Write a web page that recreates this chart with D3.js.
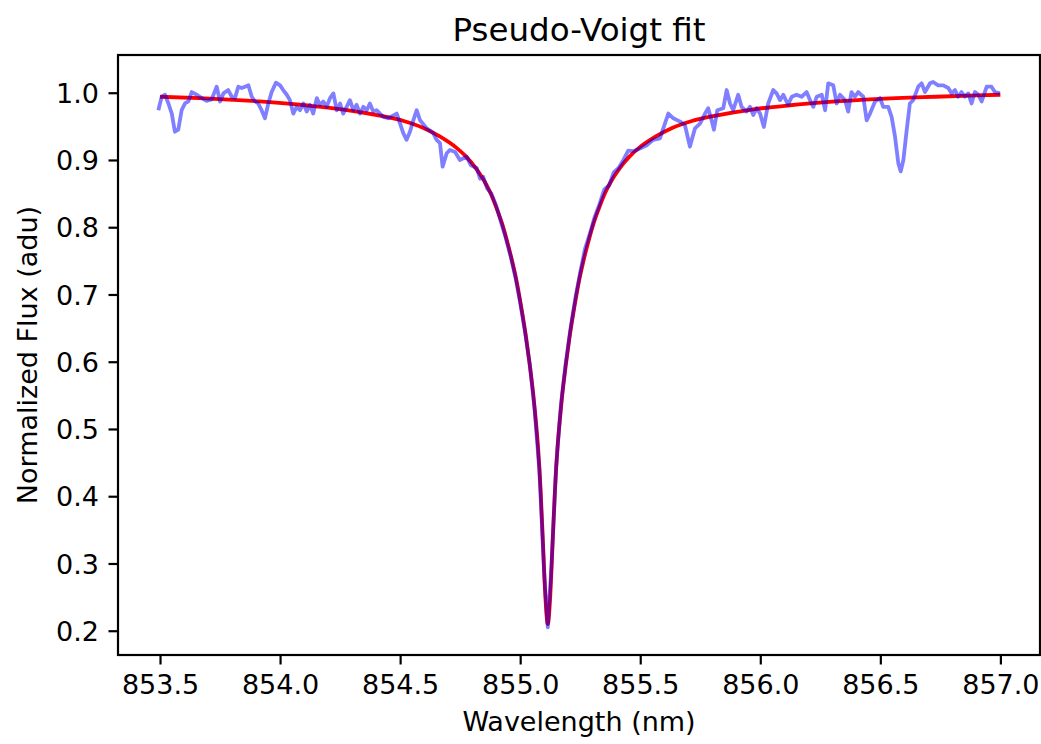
<!DOCTYPE html>
<html>
<head>
<meta charset="utf-8">
<script src="https://cdn.jsdelivr.net/npm/d3@7"></script>
<style>
  body { margin: 0; background: #ffffff; }
  svg { display: block; font-family: "DejaVu Sans", sans-serif; }
</style>
</head>
<body>
<script>
// observed spectrum (blue)
const wavelength_data = [
  853.493, 853.507, 853.521, 853.535, 853.549, 853.562, 853.576, 853.590, 853.604, 853.618,
  853.632, 853.653, 853.674, 853.694, 853.715, 853.736, 853.750, 853.764, 853.784, 853.799,
  853.812, 853.826, 853.840, 853.854, 853.868, 853.882, 853.896, 853.909, 853.923, 853.937,
  853.951, 853.965, 853.983, 854.000, 854.013, 854.028, 854.041, 854.055, 854.069, 854.083,
  854.097, 854.111, 854.125, 854.138, 854.153, 854.166, 854.180, 854.194, 854.208, 854.222,
  854.236, 854.250, 854.263, 854.277, 854.291, 854.305, 854.319, 854.333, 854.347, 854.361,
  854.374, 854.388, 854.402, 854.416, 854.430, 854.451, 854.486, 854.513, 854.527, 854.541,
  854.555, 854.569, 854.583, 854.611, 854.638, 854.652, 854.666, 854.677, 854.694, 854.708,
  854.729, 854.749, 854.777, 854.795, 854.819, 854.833, 854.846, 854.862, 854.880, 854.900,
  854.920, 854.940, 854.960, 854.980, 855.000, 855.020, 855.040, 855.060, 855.080, 855.100,
  855.115, 855.130, 855.150, 855.170, 855.190, 855.210, 855.230, 855.250, 855.270, 855.290,
  855.310, 855.330, 855.350, 855.370, 855.390, 855.410, 855.430, 855.450, 855.470,
  855.499, 855.527, 855.554, 855.582, 855.617, 855.638, 855.666, 855.686, 855.707, 855.728,
  855.749, 855.770, 855.783, 855.797, 855.807, 855.821, 855.846, 855.860, 855.874, 855.887,
  855.908, 855.922, 855.943, 855.957, 855.971, 855.985, 855.999, 856.015, 856.033, 856.054,
  856.068, 856.082, 856.096, 856.116, 856.131, 856.151, 856.172, 856.193, 856.207, 856.221,
  856.235, 856.256, 856.270, 856.283, 856.304, 856.318, 856.332, 856.353, 856.366, 856.380,
  856.394, 856.408, 856.429, 856.443, 856.457, 856.478, 856.499, 856.512, 856.533, 856.547,
  856.561, 856.575, 856.585, 856.596, 856.610, 856.623, 856.637, 856.658, 856.672, 856.686,
  856.707, 856.720, 856.741, 856.762, 856.783, 856.797, 856.811, 856.824, 856.838, 856.852,
  856.866, 856.880, 856.894, 856.908, 856.922, 856.943, 856.963, 856.977, 856.998
];
const flux_data = [
  0.974, 0.994, 0.997, 0.984, 0.969, 0.942, 0.945, 0.974, 0.984, 0.987,
  1.001, 0.997, 0.992, 0.988, 0.990, 1.009, 0.987, 0.999, 1.004, 0.994,
  0.992, 1.009, 1.007, 1.009, 1.011, 0.994, 0.987, 0.984, 0.974, 0.962,
  0.984, 1.001, 1.015, 1.011, 1.004, 0.997, 0.989, 0.969, 0.979, 0.974,
  0.984, 0.972, 0.982, 0.969, 0.992, 0.982, 0.987, 0.979, 0.992, 0.999,
  0.974, 0.984, 0.969, 0.979, 0.989, 0.974, 0.982, 0.969, 0.979, 0.974,
  0.984, 0.972, 0.974, 0.969, 0.964, 0.962, 0.969, 0.940, 0.930, 0.942,
  0.959, 0.974, 0.959, 0.947, 0.940, 0.930, 0.925, 0.890, 0.910, 0.915,
  0.912, 0.900, 0.905, 0.892, 0.888, 0.872, 0.875, 0.858, 0.850, 0.832,
  0.808, 0.784, 0.757, 0.726, 0.688, 0.645, 0.596, 0.530, 0.438, 0.285,
  0.205, 0.295, 0.445, 0.537, 0.598, 0.650, 0.695, 0.733, 0.768, 0.790,
  0.815, 0.834, 0.856, 0.862, 0.882, 0.888, 0.900, 0.914, 0.913,
  0.917, 0.922, 0.930, 0.932, 0.969, 0.962, 0.957, 0.952, 0.920, 0.947,
  0.954, 0.969, 0.977, 0.959, 0.945, 0.974, 0.977, 1.004, 0.984, 0.974,
  0.997, 0.979, 0.972, 0.979, 0.967, 0.977, 0.969, 0.949, 0.984, 1.004,
  0.999, 0.989, 0.997, 0.982, 0.994, 0.997, 0.994, 1.001, 0.989, 0.979,
  0.994, 0.997, 0.974, 1.014, 1.011, 0.984, 0.997, 0.989, 0.972, 1.001,
  0.994, 1.001, 0.994, 0.959, 0.969, 0.987, 0.992, 0.979, 0.979, 0.964,
  0.935, 0.895, 0.883, 0.900, 0.945, 0.984, 0.989, 1.009, 1.014, 1.001,
  1.014, 1.016, 1.011, 1.011, 1.007, 0.999, 1.004, 0.994, 1.001, 0.994,
  0.999, 0.984, 1.001, 0.997, 0.987, 1.009, 1.009, 1.001, 0.999
];

// pseudo-Voigt fit (red)
const fit_wavelength = [
  853.500, 853.665, 853.915, 854.115, 854.265, 854.415, 854.515, 854.595, 854.665, 854.735,
  854.775, 854.815, 854.845, 854.875, 854.900, 854.925, 854.945, 854.965, 854.985, 855.005,
  855.025, 855.040, 855.055, 855.065, 855.075, 855.085, 855.095, 855.105, 855.115, 855.125,
  855.135, 855.145, 855.155, 855.165, 855.175, 855.190, 855.205, 855.225, 855.245, 855.265,
  855.285, 855.305, 855.330, 855.355, 855.385, 855.415, 855.455, 855.495, 855.565, 855.635,
  855.715, 855.815, 855.965, 856.115, 856.315, 856.565, 856.730, 857.000
];
const fit_flux = [
  0.994, 0.992, 0.987, 0.981, 0.975, 0.966, 0.958, 0.948, 0.935, 0.918,
  0.905, 0.888, 0.872, 0.852, 0.830, 0.805, 0.780, 0.752, 0.720, 0.680,
  0.635, 0.595, 0.550, 0.513, 0.470, 0.410, 0.330, 0.250, 0.210, 0.250,
  0.330, 0.410, 0.470, 0.513, 0.550, 0.595, 0.635, 0.680, 0.720, 0.752,
  0.780, 0.805, 0.830, 0.852, 0.872, 0.888, 0.905, 0.918, 0.935, 0.948,
  0.958, 0.966, 0.975, 0.981, 0.987, 0.992, 0.994, 0.997
];

const x_ticks = [853.5, 854.0, 854.5, 855.0, 855.5, 856.0, 856.5, 857.0];
const y_ticks = [0.2, 0.3, 0.4, 0.5, 0.6, 0.7, 0.8, 0.9, 1.0];

const width = 1041;
const height = 744;
const plot = { left: 118, right: 1040, top: 55, bottom: 655 };

const svg = d3.select("body")
              .append("svg")
              .attr("width", width)
              .attr("height", height);

svg.append("rect")
   .attr("width", width)
   .attr("height", height)
   .attr("fill", "#ffffff");

const xScale = d3.scaleLinear()
                 .domain([853.325, 857.165])
                 .range([plot.left, plot.right]);
const yScale = d3.scaleLinear()
                 .domain([0.1639, 1.0561])
                 .range([plot.bottom, plot.top]);

const fitLine = d3.line()
                  .x(i => xScale(fit_wavelength[i]))
                  .y(i => yScale(fit_flux[i]))
                  .curve(d3.curveMonotoneX);
const dataLine = d3.line()
                   .x(i => xScale(wavelength_data[i]))
                   .y(i => yScale(flux_data[i]));

svg.append("path")
   .attr("d", fitLine(d3.range(fit_wavelength.length)))
   .attr("fill", "none")
   .attr("stroke", "#ff0000")
   .attr("stroke-width", 3.8)
   .attr("stroke-linejoin", "round");

svg.append("path")
   .attr("d", dataLine(d3.range(wavelength_data.length)))
   .attr("fill", "none")
   .attr("stroke", "#0000ff")
   .attr("stroke-opacity", 0.5)
   .attr("stroke-width", 3.8)
   .attr("stroke-linejoin", "round");

// axes
const xAxis = svg.append("g")
                 .attr("transform", "translate(0," + plot.bottom + ")")
                 .call(d3.axisBottom(xScale)
                         .tickValues(x_ticks)
                         .tickFormat(d3.format(".1f"))
                         .tickSize(9.5)
                         .tickPadding(9));
const yAxis = svg.append("g")
                 .attr("transform", "translate(" + plot.left + ",0)")
                 .call(d3.axisLeft(yScale)
                         .tickValues(y_ticks)
                         .tickFormat(d3.format(".1f"))
                         .tickSize(9.5)
                         .tickPadding(9.5));

[xAxis, yAxis].forEach(axis => {
  axis.select(".domain").remove();
  axis.selectAll(".tick line")
      .attr("stroke", "#000000")
      .attr("stroke-width", 2.2);
  axis.selectAll(".tick text")
      .attr("fill", "#000000")
      .style("font-family", "DejaVu Sans")
      .style("font-size", "27px");
});
xAxis.selectAll(".tick text").attr("dy", "0.76em");
yAxis.selectAll(".tick text").attr("dy", "0.36em");

svg.append("rect")
   .attr("x", plot.left)
   .attr("y", plot.top)
   .attr("width", plot.right - plot.left)
   .attr("height", plot.bottom - plot.top)
   .attr("fill", "none")
   .attr("stroke", "#000000")
   .attr("stroke-width", 2.2);

// labels
svg.append("text")
   .attr("x", (plot.left + plot.right) / 2)
   .attr("y", 41)
   .attr("text-anchor", "middle")
   .style("font-size", "32.5px")
   .text("Pseudo-Voigt fit");

svg.append("text")
   .attr("x", (plot.left + plot.right) / 2)
   .attr("y", 731)
   .attr("text-anchor", "middle")
   .style("font-size", "27px")
   .text("Wavelength (nm)");

svg.append("text")
   .attr("transform", "translate(37," + (plot.top + plot.bottom) / 2 + ") rotate(-90)")
   .attr("text-anchor", "middle")
   .style("font-size", "27px")
   .text("Normalized Flux (adu)");
</script>
</body>
</html>
